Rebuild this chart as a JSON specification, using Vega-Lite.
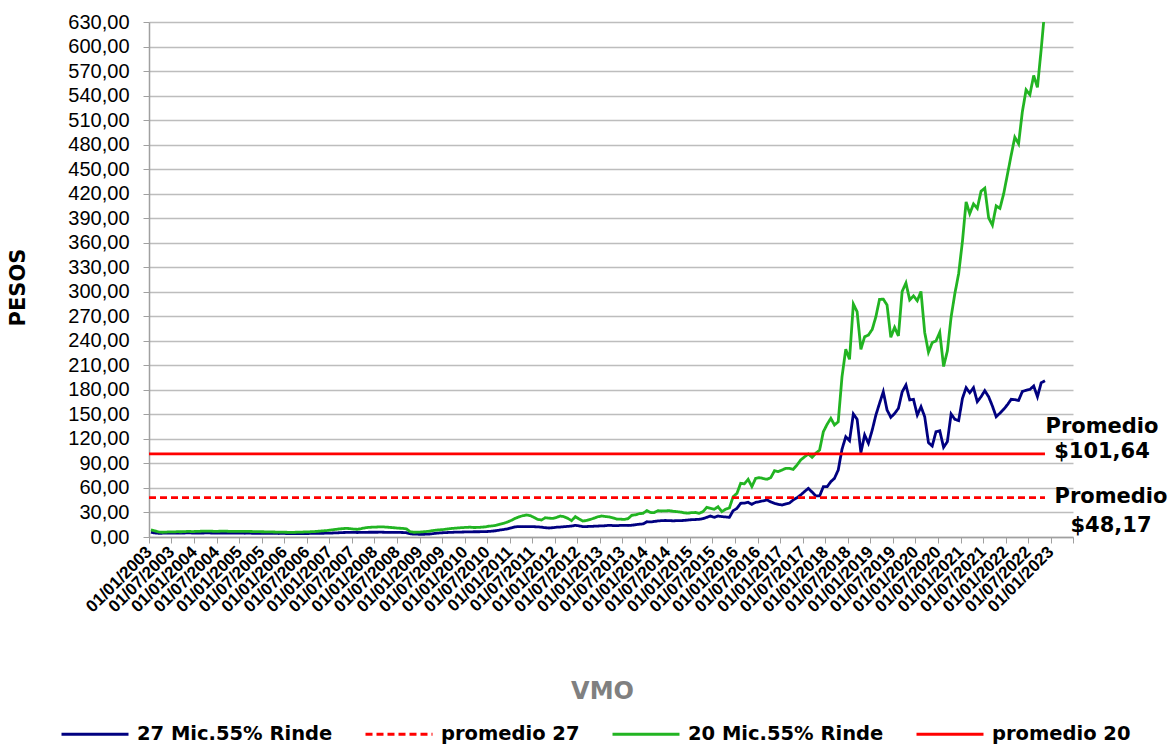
{
"$schema":"https://vega.github.io/schema/vega-lite/v6.json",
"width":924,"height":515,
"autosize":{"type":"none"},
"padding":{"left":149,"top":22,"right":97,"bottom":207},
"background":"white",
"config":{
 "locale":{"number":{"decimal":",","thousands":".","grouping":[3],"currency":["$",""]}},
 "view":{"stroke":null},
 "legend":{"symbolType":"stroke","symbolSize":4489,"symbolStrokeWidth":3,"labelFont":"DejaVu Sans","labelFontSize":19.5,"labelFontWeight":"bold","labelColor":"#000000","labelOffset":7,"columnPadding":26,"labelLimit":400,"padding":0}
},
"encoding":{
 "y":{"field":"v","type":"quantitative","scale":{"domain":[0,630],"nice":false},
  "axis":{"title":"PESOS","titleFont":"DejaVu Sans","titleFontSize":21,"titleFontWeight":"bold","titleColor":"#000000","titleX":-131,"titleY":265,"titleAngle":-90,"titleAlign":"center","titleBaseline":"middle",
   "values":[0,30,60,90,120,150,180,210,240,270,300,330,360,390,420,450,480,510,540,570,600,630],"tickCount":22,"format":".2f","labelOverlap":false,
   "labelFont":"Liberation Sans","labelFontSize":20,"labelColor":"#000000","labelPadding":14,"tickSize":6,"tickColor":"#A0A0A0","domainColor":"#A0A0A0","domainWidth":1.5,
   "grid":true,"gridColor":"#BDBDBD","gridWidth":1.5}}
},
"layer":[
{
 "data":{"values":[
{"d":"2003-01-01","A":5.8,"C":8.8},{"d":"2003-02-01","A":5.0,"C":7.6},{"d":"2003-03-01","A":4.6,"C":6.2},{"d":"2003-04-01","A":4.6,"C":5.8},{"d":"2003-05-01","A":4.7,"C":6.0},{"d":"2003-06-01","A":4.8,"C":6.3},{"d":"2003-07-01","A":4.8,"C":6.2},{"d":"2003-08-01","A":4.9,"C":6.5},{"d":"2003-09-01","A":4.8,"C":6.4},{"d":"2003-10-01","A":4.9,"C":6.6},{"d":"2003-11-01","A":5.0,"C":6.9},{"d":"2003-12-01","A":4.9,"C":6.6},
{"d":"2004-01-01","A":4.9,"C":6.8},{"d":"2004-02-01","A":4.8,"C":7.0},{"d":"2004-03-01","A":4.9,"C":7.2},{"d":"2004-04-01","A":5.0,"C":7.3},{"d":"2004-05-01","A":4.9,"C":7.1},{"d":"2004-06-01","A":4.8,"C":6.9},{"d":"2004-07-01","A":4.8,"C":7.0},{"d":"2004-08-01","A":4.9,"C":7.2},{"d":"2004-09-01","A":4.8,"C":7.1},{"d":"2004-10-01","A":4.8,"C":6.9},{"d":"2004-11-01","A":4.7,"C":6.8},{"d":"2004-12-01","A":4.8,"C":7.0},
{"d":"2005-01-01","A":4.7,"C":6.9},{"d":"2005-02-01","A":4.6,"C":7.0},{"d":"2005-03-01","A":4.7,"C":6.8},{"d":"2005-04-01","A":4.6,"C":6.7},{"d":"2005-05-01","A":4.5,"C":6.6},{"d":"2005-06-01","A":4.6,"C":6.5},{"d":"2005-07-01","A":4.5,"C":6.4},{"d":"2005-08-01","A":4.4,"C":6.3},{"d":"2005-09-01","A":4.5,"C":6.2},{"d":"2005-10-01","A":4.4,"C":6.1},{"d":"2005-11-01","A":4.3,"C":6.0},{"d":"2005-12-01","A":4.4,"C":5.9},
{"d":"2006-01-01","A":4.3,"C":5.8},{"d":"2006-02-01","A":4.2,"C":5.6},{"d":"2006-03-01","A":4.1,"C":5.7},{"d":"2006-04-01","A":4.2,"C":5.9},{"d":"2006-05-01","A":4.2,"C":6.0},{"d":"2006-06-01","A":4.3,"C":6.2},{"d":"2006-07-01","A":4.3,"C":6.3},{"d":"2006-08-01","A":4.4,"C":6.5},{"d":"2006-09-01","A":4.4,"C":6.8},{"d":"2006-10-01","A":4.5,"C":7.2},{"d":"2006-11-01","A":4.6,"C":7.6},{"d":"2006-12-01","A":4.7,"C":8.0},
{"d":"2007-01-01","A":4.8,"C":8.6},{"d":"2007-02-01","A":5.0,"C":9.2},{"d":"2007-03-01","A":5.2,"C":9.8},{"d":"2007-04-01","A":5.4,"C":10.2},{"d":"2007-05-01","A":5.6,"C":10.6},{"d":"2007-06-01","A":5.7,"C":10.3},{"d":"2007-07-01","A":5.6,"C":9.6},{"d":"2007-08-01","A":5.5,"C":9.4},{"d":"2007-09-01","A":5.6,"C":10.2},{"d":"2007-10-01","A":5.7,"C":11.2},{"d":"2007-11-01","A":5.8,"C":11.8},{"d":"2007-12-01","A":5.8,"C":12.0},
{"d":"2008-01-01","A":5.8,"C":12.2},{"d":"2008-02-01","A":5.9,"C":12.4},{"d":"2008-03-01","A":5.8,"C":12.3},{"d":"2008-04-01","A":5.7,"C":12.0},{"d":"2008-05-01","A":5.7,"C":11.6},{"d":"2008-06-01","A":5.6,"C":11.2},{"d":"2008-07-01","A":5.6,"C":10.8},{"d":"2008-08-01","A":5.5,"C":10.5},{"d":"2008-09-01","A":5.3,"C":10.0},{"d":"2008-10-01","A":4.0,"C":6.5},{"d":"2008-11-01","A":3.5,"C":5.8},{"d":"2008-12-01","A":3.4,"C":5.9},
{"d":"2009-01-01","A":3.3,"C":6.2},{"d":"2009-02-01","A":3.4,"C":6.6},{"d":"2009-03-01","A":3.6,"C":7.0},{"d":"2009-04-01","A":4.0,"C":7.8},{"d":"2009-05-01","A":4.6,"C":8.4},{"d":"2009-06-01","A":5.0,"C":8.8},{"d":"2009-07-01","A":5.3,"C":9.2},{"d":"2009-08-01","A":5.5,"C":9.8},{"d":"2009-09-01","A":5.7,"C":10.4},{"d":"2009-10-01","A":5.9,"C":10.8},{"d":"2009-11-01","A":6.0,"C":11.2},{"d":"2009-12-01","A":6.1,"C":11.5},
{"d":"2010-01-01","A":6.2,"C":11.8},{"d":"2010-02-01","A":6.3,"C":12.0},{"d":"2010-03-01","A":6.4,"C":11.6},{"d":"2010-04-01","A":6.4,"C":11.7},{"d":"2010-05-01","A":6.5,"C":12.0},{"d":"2010-06-01","A":6.6,"C":12.4},{"d":"2010-07-01","A":6.8,"C":13.2},{"d":"2010-08-01","A":7.2,"C":13.6},{"d":"2010-09-01","A":7.8,"C":14.5},{"d":"2010-10-01","A":8.6,"C":15.8},{"d":"2010-11-01","A":9.2,"C":16.8},{"d":"2010-12-01","A":10.0,"C":18.5},
{"d":"2011-01-01","A":11.2,"C":20.5},{"d":"2011-02-01","A":12.4,"C":22.8},{"d":"2011-03-01","A":12.8,"C":24.6},{"d":"2011-04-01","A":12.6,"C":26.0},{"d":"2011-05-01","A":12.7,"C":26.9},{"d":"2011-06-01","A":12.8,"C":26.2},{"d":"2011-07-01","A":12.6,"C":24.0},{"d":"2011-08-01","A":12.4,"C":21.5},{"d":"2011-09-01","A":12.0,"C":20.8},{"d":"2011-10-01","A":11.4,"C":23.6},{"d":"2011-11-01","A":11.0,"C":23.0},{"d":"2011-12-01","A":11.4,"C":22.8},
{"d":"2012-01-01","A":12.0,"C":24.0},{"d":"2012-02-01","A":12.2,"C":25.7},{"d":"2012-03-01","A":12.6,"C":24.8},{"d":"2012-04-01","A":13.0,"C":22.8},{"d":"2012-05-01","A":13.4,"C":20.0},{"d":"2012-06-01","A":14.3,"C":24.9},{"d":"2012-07-01","A":13.6,"C":22.0},{"d":"2012-08-01","A":12.6,"C":19.6},{"d":"2012-09-01","A":12.8,"C":20.2},{"d":"2012-10-01","A":13.0,"C":21.6},{"d":"2012-11-01","A":13.2,"C":23.0},{"d":"2012-12-01","A":13.4,"C":24.8},
{"d":"2013-01-01","A":13.6,"C":25.7},{"d":"2013-02-01","A":13.8,"C":25.0},{"d":"2013-03-01","A":14.3,"C":24.5},{"d":"2013-04-01","A":14.0,"C":23.4},{"d":"2013-05-01","A":13.8,"C":22.0},{"d":"2013-06-01","A":14.2,"C":21.8},{"d":"2013-07-01","A":14.3,"C":21.6},{"d":"2013-08-01","A":14.1,"C":22.4},{"d":"2013-09-01","A":14.4,"C":26.5},{"d":"2013-10-01","A":15.0,"C":27.2},{"d":"2013-11-01","A":15.6,"C":28.5},{"d":"2013-12-01","A":16.0,"C":29.0},
{"d":"2014-01-01","A":18.7,"C":32.2},{"d":"2014-02-01","A":18.4,"C":30.0},{"d":"2014-03-01","A":19.0,"C":29.8},{"d":"2014-04-01","A":19.6,"C":32.2},{"d":"2014-05-01","A":20.0,"C":31.8},{"d":"2014-06-01","A":20.2,"C":32.0},{"d":"2014-07-01","A":20.0,"C":32.2},{"d":"2014-08-01","A":19.8,"C":31.5},{"d":"2014-09-01","A":20.0,"C":31.0},{"d":"2014-10-01","A":20.0,"C":30.5},{"d":"2014-11-01","A":20.3,"C":29.5},{"d":"2014-12-01","A":20.8,"C":29.2},
{"d":"2015-01-01","A":21.2,"C":29.8},{"d":"2015-02-01","A":21.4,"C":30.0},{"d":"2015-03-01","A":21.6,"C":29.0},{"d":"2015-04-01","A":22.5,"C":31.0},{"d":"2015-05-01","A":24.0,"C":36.3},{"d":"2015-06-01","A":25.7,"C":35.0},{"d":"2015-07-01","A":24.0,"C":33.9},{"d":"2015-08-01","A":25.7,"C":37.0},{"d":"2015-09-01","A":24.9,"C":31.0},{"d":"2015-10-01","A":24.5,"C":34.0},{"d":"2015-11-01","A":24.0,"C":35.5},{"d":"2015-12-01","A":32.2,"C":49.3},
{"d":"2016-01-01","A":35.0,"C":53.4},{"d":"2016-02-01","A":41.2,"C":65.7},{"d":"2016-03-01","A":41.5,"C":65.0},{"d":"2016-04-01","A":42.4,"C":70.6},{"d":"2016-05-01","A":40.0,"C":61.6},{"d":"2016-06-01","A":42.4,"C":71.8},{"d":"2016-07-01","A":43.2,"C":72.6},{"d":"2016-08-01","A":44.3,"C":71.5},{"d":"2016-09-01","A":45.3,"C":70.6},{"d":"2016-10-01","A":43.0,"C":72.6},{"d":"2016-11-01","A":41.2,"C":81.1},{"d":"2016-12-01","A":40.0,"C":80.0},
{"d":"2017-01-01","A":39.1,"C":82.0},{"d":"2017-02-01","A":40.5,"C":84.0},{"d":"2017-03-01","A":41.5,"C":84.0},{"d":"2017-04-01","A":45.3,"C":82.8},{"d":"2017-05-01","A":48.0,"C":88.0},{"d":"2017-06-01","A":51.4,"C":94.2},{"d":"2017-07-01","A":55.5,"C":98.0},{"d":"2017-08-01","A":59.5,"C":101.5},{"d":"2017-09-01","A":55.0,"C":97.5},{"d":"2017-10-01","A":50.2,"C":102.4},{"d":"2017-11-01","A":50.2,"C":106.4},{"d":"2017-12-01","A":61.6,"C":128.8},
{"d":"2018-01-01","A":61.6,"C":138.0},{"d":"2018-02-01","A":67.7,"C":145.2},{"d":"2018-03-01","A":71.8,"C":137.0},{"d":"2018-04-01","A":82.0,"C":141.0},{"d":"2018-05-01","A":107.3,"C":196.0},{"d":"2018-06-01","A":122.7,"C":229.6},{"d":"2018-07-01","A":117.8,"C":217.4},{"d":"2018-08-01","A":150.5,"C":285.0},{"d":"2018-09-01","A":144.0,"C":275.6},{"d":"2018-10-01","A":103.1,"C":229.6},{"d":"2018-11-01","A":124.8,"C":245.0},{"d":"2018-12-01","A":114.6,"C":247.0},
{"d":"2019-01-01","A":130.9,"C":254.0},{"d":"2019-02-01","A":149.2,"C":269.5},{"d":"2019-03-01","A":163.5,"C":290.7},{"d":"2019-04-01","A":177.7,"C":291.0},{"d":"2019-05-01","A":155.4,"C":283.8},{"d":"2019-06-01","A":146.4,"C":244.3},{"d":"2019-07-01","A":151.0,"C":256.5},{"d":"2019-08-01","A":157.4,"C":245.9},{"d":"2019-09-01","A":177.5,"C":300.4},{"d":"2019-10-01","A":185.9,"C":310.8},{"d":"2019-11-01","A":167.6,"C":290.0},{"d":"2019-12-01","A":168.4,"C":295.0},
{"d":"2020-01-01","A":149.2,"C":289.0},{"d":"2020-02-01","A":159.4,"C":300.4},{"d":"2020-03-01","A":147.2,"C":250.3},{"d":"2020-04-01","A":115.4,"C":226.1},{"d":"2020-05-01","A":111.3,"C":237.8},{"d":"2020-06-01","A":128.8,"C":239.9},{"d":"2020-07-01","A":130.0,"C":250.3},{"d":"2020-08-01","A":109.7,"C":208.6},{"d":"2020-09-01","A":116.6,"C":227.4},{"d":"2020-10-01","A":150.5,"C":269.1},{"d":"2020-11-01","A":144.0,"C":298.0},{"d":"2020-12-01","A":142.3,"C":322.0},
{"d":"2021-01-01","A":169.7,"C":362.0},{"d":"2021-02-01","A":182.6,"C":410.0},{"d":"2021-03-01","A":176.5,"C":395.5},{"d":"2021-04-01","A":182.6,"C":407.5},{"d":"2021-05-01","A":165.5,"C":402.0},{"d":"2021-06-01","A":171.6,"C":423.0},{"d":"2021-07-01","A":179.0,"C":426.7},{"d":"2021-08-01","A":171.6,"C":390.5},{"d":"2021-09-01","A":160.2,"C":381.5},{"d":"2021-10-01","A":147.2,"C":405.0},{"d":"2021-11-01","A":151.5,"C":402.0},{"d":"2021-12-01","A":156.2,"C":420.0},
{"d":"2022-01-01","A":162.0,"C":444.0},{"d":"2022-02-01","A":168.4,"C":467.0},{"d":"2022-03-01","A":168.0,"C":489.0},{"d":"2022-04-01","A":167.0,"C":481.0},{"d":"2022-05-01","A":178.0,"C":520.0},{"d":"2022-06-01","A":179.5,"C":547.0},{"d":"2022-07-01","A":180.5,"C":541.0},{"d":"2022-08-01","A":184.7,"C":564.5},{"d":"2022-09-01","A":171.6,"C":550.0},{"d":"2022-10-01","A":188.7,"C":597.0},{"d":"2022-11-01","A":191.2,"C":648.0}
 ]},
 "transform":[{"fold":["A","C"],"as":["k","v"]}],
 "mark":{"type":"line","strokeWidth":2.8,"clip":true},
 "encoding":{
  "x":{"field":"d","type":"temporal","timeUnit":"utcyearmonth","bandPosition":0.5,
   "scale":{"domain":[{"year":2003,"month":1,"date":1,"utc":true},{"year":2023,"month":7,"date":1,"utc":true}]},
   "axis":{"title":"VMO","titleColor":"#808080","titleFont":"DejaVu Sans","titleFontSize":24,"titleFontWeight":"bold","titleX":453,"titleY":161,"titleAlign":"center","titleBaseline":"alphabetic",
    "format":"%d/%m/%Y","tickCount":{"interval":"month","step":6},"labelExpr":"utcyear(datum.value) == 2023 && utcmonth(datum.value) == 6 ? '' : datum.label",
    "labelAngle":-45,"labelAlign":"right","labelBaseline":"middle","labelPadding":6,"labelFont":"Liberation Sans","labelFontSize":17,"labelFontWeight":"bold","labelColor":"#000000","labelOverlap":false,"labelBound":false,"labelFlush":false,
    "tickSize":6,"tickColor":"#A0A0A0","domainColor":"#A0A0A0","domainWidth":1.5,"grid":false}},
  "color":{"field":"k","type":"nominal","scale":{"domain":["A","B","C","D"],"range":["#000080","#FF0000","#22B422","#FF0000"]},
   "legend":{"title":null,"orient":"none","legendX":-89,"legendY":677,"direction":"horizontal","labelExpr":"datum.label == 'A' ? '27 Mic.55% Rinde' : datum.label == 'B' ? 'promedio 27' : datum.label == 'C' ? '20 Mic.55% Rinde' : 'promedio 20'"}},
  "strokeDash":{"field":"k","type":"nominal","scale":{"domain":["A","B","C","D"],"range":[[1,0],[7,4],[1,0],[1,0]]},
   "legend":{"title":null,"orient":"none","legendX":-89,"legendY":677,"direction":"horizontal","labelExpr":"datum.label == 'A' ? '27 Mic.55% Rinde' : datum.label == 'B' ? 'promedio 27' : datum.label == 'C' ? '20 Mic.55% Rinde' : 'promedio 20'"}}
 }
},
{
 "data":{"values":[{"k":"B","v":48.17,"s":"2003-01-01","e":"2022-11-16"},{"k":"D","v":101.64,"s":"2003-01-01","e":"2022-11-16"}]},
 "mark":{"type":"rule","strokeWidth":2.8},
 "encoding":{
  "x":{"field":"s","type":"temporal"},
  "x2":{"field":"e"},
  "color":{"field":"k","type":"nominal"},
  "strokeDash":{"field":"k","type":"nominal"}
 }
},
{
 "data":{"values":[{"t":"Promedio\n$101,64","v":101.64,"e":"2022-11-16"}]},
 "mark":{"type":"text","font":"DejaVu Sans","fontWeight":"bold","fontSize":21,"align":"center","baseline":"alphabetic","dx":57,"dy":-21,"lineHeight":25,"lineBreak":"\n","color":"#000000"},
 "encoding":{"x":{"field":"e","type":"temporal"},"text":{"field":"t","type":"nominal"}}
},
{
 "data":{"values":[{"t":"Promedio\n$48,17","v":48.17,"e":"2022-11-16"}]},
 "mark":{"type":"text","font":"DejaVu Sans","fontWeight":"bold","fontSize":21,"align":"center","baseline":"alphabetic","dx":66,"dy":5,"lineHeight":29,"lineBreak":"\n","color":"#000000"},
 "encoding":{"x":{"field":"e","type":"temporal"},"text":{"field":"t","type":"nominal"}}
}
]
}
